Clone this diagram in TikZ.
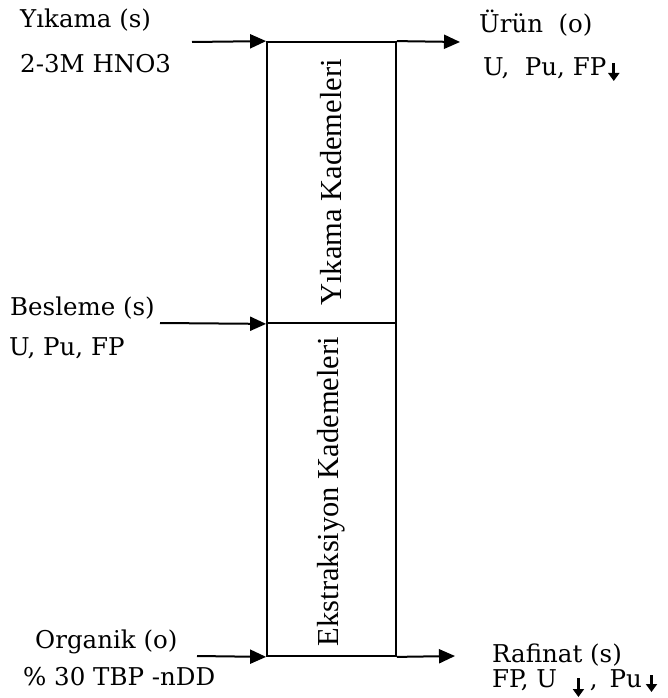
\documentclass[tikz,border=0pt]{standalone}
\usepackage{fontspec}
\setmainfont{DejaVu Serif}
\newfontfamily\stagefont{Liberation Serif}
\usetikzlibrary{arrows.meta}

% small downward arrow inside the stream labels: #1 top, #2 tip (relative to the baseline)
\newcommand{\dnarrow}[2]{\tikz[baseline=0pt]\draw[line width=2.6pt,-{Triangle[length=8pt,width=11pt]}] (0,#1) -- (0,#2);}

\tikzset{
  stream/.style={line width=2pt,-{Triangle[length=16pt,width=14pt]}},
  stagebox/.style={draw,line width=1.8pt,inner sep=0pt,minimum width=129pt},
  stagetext/.style={rotate=90,font=\stagefont\fontsize{30.5}{31}\selectfont,inner sep=0pt},
  label/.style={anchor=base west,inner sep=0pt,font=\fontsize{24.5}{26}\selectfont}
}

\begin{document}
\begin{tikzpicture}[x=1pt,y=-1pt]
\useasboundingbox[fill=white] (0,0) rectangle (668,698);

% stage column
\node[stagebox,minimum height=281pt] (wash) at (331.5,182.5) {};
\node[stagebox,minimum height=333pt] (extr) at (331.5,489.5) {};
\node[stagetext] (washtxt) at (wash.center) {Yıkama Kademeleri};
\node[stagetext] (extrtxt) at ([yshift=-2pt]extr.center) {Ekstraksiyon Kademeleri};

% free ends of the streams
\coordinate (scrubin) at (192,42);
\coordinate (prodout) at (460,42);
\coordinate (feedin) at (160,323);
\coordinate (orgin) at (197,656);
\coordinate (rafout) at (455,656);

\draw[stream] (scrubin) -- (wash.north west);
\draw[stream] (wash.north east) -- (prodout);
\draw[stream] (feedin) -- (wash.south west);
\draw[stream] (orgin) -- (extr.south west);
\draw[stream] (extr.south east) -- (rafout);

% stream labels
\node[label] (scrub1) at (20,28) {Yıkama (s)};
\node[label] (scrub2) at (20,73) {2-3M HNO3};
\node[label] (prod1) at (479,33) {Ürün\ \ (o)};
\node[label] (prod2) at (483,76) {U,\ \ Pu, FP\hspace{2pt}\dnarrow{13pt}{-5pt}};
\node[label] (feed1) at (10,315) {Besleme (s)};
\node[label] (feed2) at (9,355) {U, Pu, FP};
\node[label] (org1) at (35,648) {Organik (o)};
\node[label] (org2) at (23,685) {\% 30 TBP -nDD};
\node[label] (raf1) at (492,662) {Rafinat (s)};
\node[label] (raf2) at (492,687) {FP, U\hspace{16pt}\dnarrow{9pt}{-10pt}\hspace{6pt},\hspace{12pt}Pu\hspace{4pt}\dnarrow{12pt}{-5pt}};
\end{tikzpicture}
\end{document}
